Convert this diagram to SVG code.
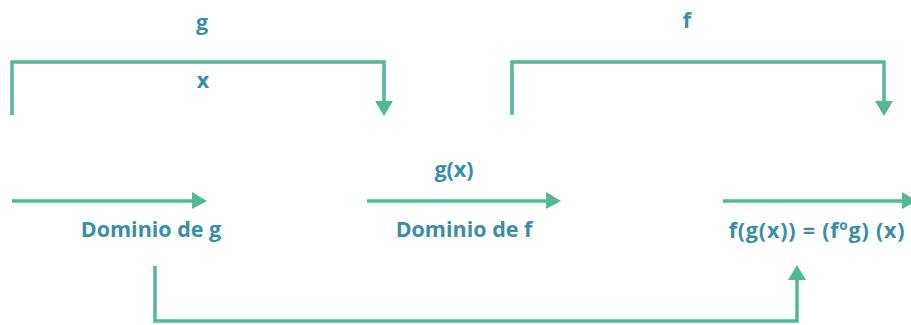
<svg xmlns="http://www.w3.org/2000/svg" width="911" height="325" viewBox="0 0 911 325">
<defs>
<style>
.ln{fill:none;stroke:#52b898;stroke-width:3.5}
.ah{fill:#52b898}
.t{font-family:"Open Sans","Liberation Sans",sans-serif;font-weight:bold;font-size:21.5px;fill:#3a8ea8;text-anchor:middle}
</style>
</defs>
<g id="connectors">
<path class="ln" d="M12,115 V62 H384 V102"/>
<polygon class="ah" points="375,101 393,101 384,116"/>
<path class="ln" d="M512,115 V62 H884 V102"/>
<polygon class="ah" points="875,101 893,101 884,116"/>
<path class="ln" d="M12,201 H194"/>
<polygon class="ah" points="192,192 192,209 207,201"/>
<path class="ln" d="M367,201 H548"/>
<polygon class="ah" points="546,192 546,209 561,201"/>
<path class="ln" d="M723,201 H905"/>
<polygon class="ah" points="902,192 902,209 917,201"/>
<path class="ln" d="M155,266 V321 H797 V278"/>
<polygon class="ah" points="788,280 806,280 797,265"/>
</g>
<g id="label-g"><text class="t" x="202" y="30">g</text></g>
<g id="label-x"><text class="t" x="203" y="88">x</text></g>
<g id="label-f"><text class="t" x="687" y="28">f</text></g>
<g id="label-gx"><text class="t" x="454" y="177">g(x)</text></g>
<g id="node-dom-g"><text class="t" x="151" y="237">Dominio de g</text></g>
<g id="node-dom-f"><text class="t" x="464" y="237">Dominio de f</text></g>
<g id="node-fgx"><text class="t" x="817" y="238" style="letter-spacing:0.8px">f(g(x)) = (fºg) (x)</text></g>
</svg>
